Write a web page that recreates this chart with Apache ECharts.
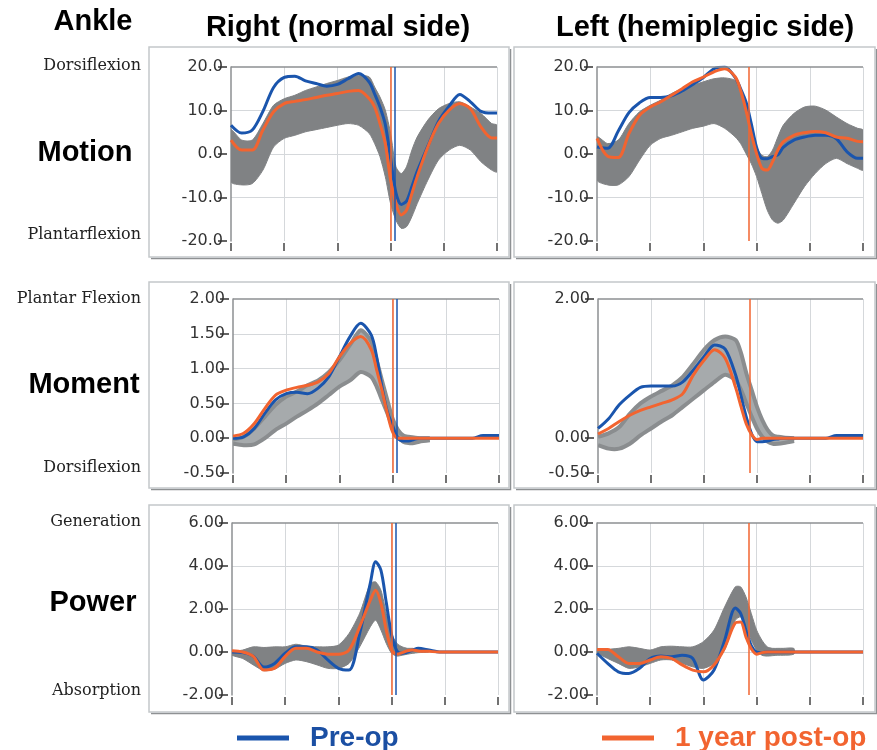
<!DOCTYPE html>
<html><head><meta charset="utf-8">
<script src="https://cdn.jsdelivr.net/npm/echarts@6/dist/echarts.min.js"></script>
<style>html,body{margin:0;padding:0;background:#fff}#c{width:877px;height:750px}</style>
</head><body><div id="c"></div>
<script>
// % of gait cycle
const X = [0,4,8,12,16,20,24,28,32,36,40,44,48,52,54,56,58,60,62,64,66,68,70,74,78,82,86,90,94,98,100];

// Ankle motion (deg)
const rMotionPre  = [6.6,4.8,5.5,9.8,15.3,17.6,17.9,16.8,16.2,15.6,16.0,17.3,18.5,16.5,13.8,10.8,6.8,-1.0,-8.9,-11.6,-10.8,-7.5,-4.0,1.8,7.5,11.0,13.7,12.0,9.8,9.4,9.4];
const rMotionPost = [3.2,0.9,0.9,5.5,9.7,11.6,12.1,12.5,13.0,13.5,13.9,14.4,14.6,12.7,10.8,7.0,2.4,-6.0,-11.4,-14.0,-12.9,-9.1,-5.2,1.6,7.0,10.1,11.6,10.4,6.2,3.7,3.7];
const rMotionHi   = [5.5,3.2,3.2,7.0,11.2,12.7,13.5,14.6,15.4,16.2,16.9,17.7,18.1,17.7,15.4,13.1,10.1,4.7,-2.9,-4.5,-2.9,0.9,3.9,7.8,10.4,11.6,12.0,10.8,9.3,7.0,6.6];
const rMotionLo   = [-6.4,-7.1,-6.8,-3.7,1.6,3.6,4.3,5.1,5.6,6.1,6.6,7.0,6.6,4.7,2.4,-0.6,-5.2,-11.4,-15.2,-17.1,-16.7,-14.4,-11.4,-6.0,-1.4,0.9,2.0,0.9,-1.8,-3.7,-4.1];
const lMotionPre  = [1.6,1.3,5.3,9.5,11.8,13.0,13.0,13.4,14.5,16.0,17.6,19.6,20.0,17.5,15.0,12.0,7.0,1.5,-1.0,-1.1,-0.6,-0.2,1.5,3.2,3.9,4.3,4.3,3.5,0.5,-1.0,-1.0];
const lMotionPost = [3.6,-0.5,-0.8,4.7,8.9,10.8,12.0,13.5,15.0,16.6,17.7,18.9,19.6,17.7,14.6,10.1,4.7,0.1,-3.3,-3.7,-1.8,0.9,2.8,4.3,4.9,5.2,4.9,3.9,3.6,2.9,2.8];
const lMotionHi   = [3.9,2.4,3.2,7.0,9.7,11.2,12.4,13.9,15.0,15.8,16.6,17.3,17.5,16.9,14.6,10.8,7.0,1.6,-0.3,-0.6,0.9,3.9,6.6,9.3,10.8,11.0,10.1,8.5,7.0,5.9,5.5];
const lMotionLo   = [-6.0,-7.1,-7.1,-5.2,-1.4,2.0,3.6,4.3,5.1,5.9,6.4,7.0,5.9,3.9,2.4,0.1,-2.2,-5.2,-9.1,-12.9,-15.2,-15.9,-15.2,-11.4,-7.5,-4.5,-2.2,-1.0,-2.2,-3.3,-3.7];

// Ankle moment
const rMomentPre  = [0,0.02,0.14,0.36,0.55,0.64,0.66,0.64,0.72,0.88,1.17,1.46,1.65,1.48,1.17,0.74,0.38,0.18,0.0,-0.04,-0.04,-0.02,0,0,0,0,0,0,0.04,0.04,0.04];
const rMomentPost = [0.03,0.07,0.21,0.43,0.62,0.69,0.73,0.76,0.81,0.93,1.17,1.36,1.46,1.27,0.98,0.69,0.36,0.09,0,0,0,0,0,0,0,0,0,0,0,0,0];
const rMomentHi   = [-0.02,0.02,0.14,0.31,0.48,0.6,0.67,0.76,0.83,0.95,1.12,1.34,1.55,1.39,1.12,0.83,0.55,0.28,0.12,0.04,0.02,0.01,0,0];
const rMomentLo   = [-0.08,-0.1,-0.09,0,0.12,0.21,0.31,0.40,0.50,0.62,0.74,0.83,0.95,0.88,0.74,0.55,0.36,0.16,0.02,-0.05,-0.07,-0.07,-0.05,-0.03];
const lMomentPre  = [0.14,0.28,0.48,0.62,0.73,0.75,0.75,0.75,0.81,0.98,1.17,1.34,1.28,0.9,0.6,0.3,0.06,-0.05,-0.05,-0.04,-0.02,-0.01,0,0,0,0,0,0.04,0.04,0.04,0.04];
const lMomentPost = [0.06,0.14,0.24,0.33,0.40,0.45,0.50,0.55,0.64,0.91,1.12,1.27,1.15,0.72,0.45,0.2,0.05,-0.02,0,0,0,0,0,0,0,0,0,0,0,0,0];
const lMomentHi   = [0.02,0.07,0.16,0.35,0.5,0.6,0.68,0.76,0.88,1.07,1.27,1.41,1.46,1.41,1.22,0.93,0.69,0.45,0.26,0.12,0.04,0.02,0.01,0];
const lMomentLo   = [-0.1,-0.15,-0.15,-0.08,0.04,0.14,0.24,0.33,0.45,0.57,0.69,0.81,0.91,0.83,0.69,0.50,0.31,0.14,0.02,-0.05,-0.08,-0.08,-0.07,-0.04];

// Ankle power
const rPowerPre  = [0,-0.03,-0.2,-0.7,-0.53,-0.06,0.24,0.24,0.09,-0.37,-0.76,-0.84,0.86,3.2,4.2,3.8,2.3,0.8,0.05,-0.06,0,0.09,0.17,0.09,0,0,0,0,0,0,0];
const rPowerPost = [0.06,0,-0.2,-0.84,-0.76,-0.2,0.17,0.17,0,-0.1,-0.1,0.09,1.17,2.41,2.87,2.26,1.02,0.09,-0.1,-0.03,0.06,0.09,0.05,0.03,0,0,0,0,0,0,0];
const rPowerHi   = [0,0.09,0.24,0.21,0.24,0.24,0.36,0.27,0.24,0.24,0.32,0.86,1.8,3.18,3.26,2.87,1.79,0.86,0.4,0.24,0.17,0.17,0.12,0.09];
const rPowerLo   = [-0.15,-0.3,-0.6,-0.87,-0.8,-0.53,-0.37,-0.45,-0.6,-0.76,-0.76,-0.53,0.24,1.17,1.48,1.02,0.4,-0.06,-0.19,-0.15,-0.1,-0.06,-0.03,0];
const lPowerPre  = [-0.06,-0.53,-0.92,-1.0,-0.76,-0.3,-0.19,-0.22,-0.15,-0.3,-1.3,-0.84,0.55,2.05,1.8,1.0,0.3,0,-0.03,0,0,0,0,0,0,0,0,0,0,0,0];
const lPowerPost = [0.12,0.12,-0.22,-0.53,-0.53,-0.37,-0.22,-0.3,-0.6,-0.84,-0.92,-0.6,0.2,1.35,1.4,0.7,0.15,-0.1,-0.03,0,0,0,0,0,0,0,0,0,0,0,0];
const lPowerHi   = [0.09,0.12,0.17,0.24,0.17,0.09,0.24,0.27,0.24,0.24,0.48,1.02,2.1,3.03,3.03,2.56,1.79,1.02,0.55,0.24,0.17,0.17,0.17,0.17];
const lPowerLo   = [-0.03,-0.3,-0.53,-0.76,-0.69,-0.53,-0.37,-0.37,-0.53,-0.69,-0.76,-0.53,0.1,1.48,1.63,1.17,0.55,0.09,-0.15,-0.19,-0.17,-0.15,-0.15,-0.1];

// toe-off (% gait cycle)
const rightToeOff = { post: 59.9, pre: 61.4 };
const leftToeOff  = { post: 57.2 };

// axis ticks
const xTicks = [0,20,40,60,80,100];
const motionTicks = [-20,-10,0,10,20];
const momentTicks = [-0.5,0,0.5,1,1.5,2];
const momentTicksLeftSide = [-0.5,0,2];
const powerTicks = [-2,0,2,4,6];

const seriesNames = ['Pre-op','1 year post-op'];
const columnTitles = ['Right (normal side)','Left (hemiplegic side)'];
const rowTitles = ['Motion','Moment','Power'];
const rowUpper = ['Dorsiflexion','Plantar Flexion','Generation'];
const rowLower = ['Plantarflexion','Dorsiflexion','Absorption'];

const BLUE = '#1a55ad', ORANGE = '#f26430';
const GRID_LINE = '#d5d8db', FRAME = '#8c8f92';

const panels = [
  {pre:rMotionPre, post:rMotionPost, hi:rMotionHi, lo:rMotionLo, ticks:motionTicks, digits:1, toe:rightToeOff, moment:false, grid:{left:231,top:67,width:266,height:174}},
  {pre:lMotionPre, post:lMotionPost, hi:lMotionHi, lo:lMotionLo, ticks:motionTicks, digits:1, toe:leftToeOff, moment:false, grid:{left:597,top:67,width:266,height:174}},
  {pre:rMomentPre, post:rMomentPost, hi:rMomentHi, lo:rMomentLo, ticks:momentTicks, digits:2, toe:rightToeOff, moment:true, grid:{left:233,top:299,width:266,height:174}},
  {pre:lMomentPre, post:lMomentPost, hi:lMomentHi, lo:lMomentLo, ticks:momentTicks, custom:momentTicksLeftSide, digits:2, toe:leftToeOff, moment:true, grid:{left:598,top:299,width:265,height:174}},
  {pre:rPowerPre, post:rPowerPost, hi:rPowerHi, lo:rPowerLo, ticks:powerTicks, digits:2, toe:rightToeOff, moment:false, grid:{left:232,top:523,width:266,height:172}},
  {pre:lPowerPre, post:lPowerPost, hi:lPowerHi, lo:lPowerLo, ticks:powerTicks, digits:2, toe:leftToeOff, moment:false, grid:{left:597,top:523,width:266,height:172}}
];

const grid = [], xAxis = [], yAxis = [], series = [];
panels.forEach((p, i) => {
  grid.push(Object.assign({containLabel:false}, p.grid));
  const yMin = p.ticks[0], yMax = p.ticks[p.ticks.length-1], yInt = p.ticks[1]-p.ticks[0];
  xAxis.push({
    type:'value', gridIndex:i, min:xTicks[0], max:xTicks[xTicks.length-1], interval:xTicks[1]-xTicks[0],
    position:'bottom', offset:2,
    axisLine:{show:false, onZero:false},
    axisTick:{show:true, length:8, lineStyle:{color:'#444', width:1.5}},
    axisLabel:{show:false},
    splitLine:{show:true, showMinLine:false, lineStyle:{color:GRID_LINE, width:1}}
  });
  yAxis.push({
    type:'value', gridIndex:i, min:yMin, max:yMax, interval:yInt,
    axisLine:{show:true, onZero:false, lineStyle:{color:FRAME, width:1.5}},
    axisTick:{show:false}, axisLabel:{show:false},
    splitLine:{show:!p.custom, showMinLine:false, showMaxLine:false, lineStyle:{color:GRID_LINE, width:1}}
  });
  const tickAxis = {
    type:'value', gridIndex:i, min:yMin, max:yMax, interval:yInt, position:'left', offset:4,
    axisLine:{show:false, onZero:false},
    axisTick:{show:true, length:9, lineStyle:{color:'#333', width:1.5}},
    axisLabel:{show:true, margin:4, color:'#333', fontSize:16, fontFamily:'DejaVu Sans',
      formatter:(v)=>Number(v).toFixed(p.digits)},
    splitLine:{show:false}
  };
  if (p.custom) { tickAxis.axisTick.customValues = p.custom; tickAxis.axisLabel.customValues = p.custom; }
  yAxis.push(tickAxis);

  const xs = X.slice(0, p.lo.length);
  const fill = p.moment ? '#a6aaac' : '#808284';
  // normative band: polygon through upper then lower edge, positioned by the axes
  series.push({
    type:'custom', xAxisIndex:i, yAxisIndex:2*i, silent:true, clip:true, z:1,
    data: xs.map((x,k)=>[x, p.lo[k], p.hi[k]]),
    encode:{x:0, y:[1,2]},
    renderItem:(params, api) => {
      if (params.dataIndex !== 0) return null;
      const up = xs.map((x,k)=>api.coord([x, p.hi[k]]));
      const dn = xs.map((x,k)=>api.coord([x, p.lo[k]])).reverse();
      const children = [{type:'polygon', shape:{points:up.concat(dn), smooth:0.25},
        style:{fill:fill, stroke: p.moment ? null : fill, lineWidth:1}}];
      if (p.moment) {
        children.push({type:'polyline', shape:{points:up, smooth:0.25}, style:{stroke:'#8a8d8f', lineWidth:4, fill:null}});
        children.push({type:'polyline', shape:{points:dn, smooth:0.25}, style:{stroke:'#8a8d8f', lineWidth:4, fill:null}});
      }
      return {type:'group', children:children};
    }
  });
  const vlines = [];
  if (p.toe.post != null) vlines.push({xAxis:p.toe.post, lineStyle:{color:ORANGE, width:1.5, type:'solid'}});
  if (p.toe.pre != null) vlines.push({xAxis:p.toe.pre, lineStyle:{color:BLUE, width:1.5, type:'solid'}});
  series.push({
    name:seriesNames[0], type:'line', xAxisIndex:i, yAxisIndex:2*i,
    data: X.map((x,k)=>[x, p.pre[k]]), symbol:'none', smooth:0.3,
    lineStyle:{color:BLUE, width:3}, itemStyle:{color:BLUE}, z:3,
    markLine:{silent:true, symbol:['none','none'], label:{show:false},
      data:[{yAxis:yMax, lineStyle:{color:FRAME, width:1.5, type:'solid'}}]}
  });
  series.push({
    name:seriesNames[1], type:'line', xAxisIndex:i, yAxisIndex:2*i,
    data: X.map((x,k)=>[x, p.post[k]]), symbol:'none', smooth:0.3,
    lineStyle:{color:ORANGE, width:3}, itemStyle:{color:ORANGE}, z:4,
    markLine:{silent:true, symbol:['none','none'], label:{show:false}, data:vlines}
  });
});

const boxes = [
  [149,47,360,210],[514,47,361,210],
  [149,282,360,206],[514,282,361,206],
  [149,505,360,207],[514,505,361,207]
];
const graphic = [];
boxes.forEach(b => {
  const [x,y,w,h] = b;
  graphic.push({type:'polyline', silent:true, shape:{points:[[x+w+1.5,y+2],[x+w+1.5,y+h+1.5],[x+2,y+h+1.5]]},
    style:{stroke:'#8e9193', fill:null, lineWidth:1.5}});
  graphic.push({type:'rect', silent:true, shape:{x:x, y:y, width:w, height:h},
    style:{fill:null, stroke:'#c4c8ca', lineWidth:1.5}});
});
function txt(t, x, y, font, align, color) {
  return {type:'text', silent:true, x:x, y:y,
    style:{text:t, font:font, fill:color||'#000', align:align, verticalAlign:'middle', textAlign:align, textVerticalAlign:'middle'}};
}
const H = 'bold 29px "Liberation Sans", Arial, sans-serif';
const S = '16px "DejaVu Serif", serif';
graphic.push(txt('Ankle', 93, 22, H, 'center'));
graphic.push(txt(columnTitles[0], 338, 28, H, 'center'));
graphic.push(txt(columnTitles[1], 705, 28, H, 'center'));
graphic.push(txt(rowTitles[0], 85, 153, H, 'center'));
graphic.push(txt(rowTitles[1], 84, 385, H, 'center'));
graphic.push(txt(rowTitles[2], 93, 603, H, 'center'));
const upperY = [66, 299, 522], lowerY = [235, 468, 691];
rowUpper.forEach((t,k)=>graphic.push(txt(t, 141, upperY[k], S, 'right', '#222')));
rowLower.forEach((t,k)=>graphic.push(txt(t, 141, lowerY[k], S, 'right', '#222')));

const legendBase = {icon:'rect', itemWidth:52, itemHeight:5, selectedMode:false, orient:'horizontal'};
const option = {
  animation:false,
  backgroundColor:'#fff',
  grid, xAxis, yAxis, series, graphic,
  legend:[
    Object.assign({}, legendBase, {data:[seriesNames[0]], left:232, top:719,
      textStyle:{color:'#1b4fa3', fontSize:28, fontWeight:'bold', fontFamily:'Liberation Sans', padding:[0,0,0,16]}}),
    Object.assign({}, legendBase, {data:[seriesNames[1]], left:597, top:719,
      textStyle:{color:'#f26430', fontSize:28, fontWeight:'bold', fontFamily:'Liberation Sans', padding:[0,0,0,16]}})
  ]
};
const chart = echarts.init(document.getElementById('c'), null, {renderer:'canvas'});
chart.setOption(option);
</script></body></html>
